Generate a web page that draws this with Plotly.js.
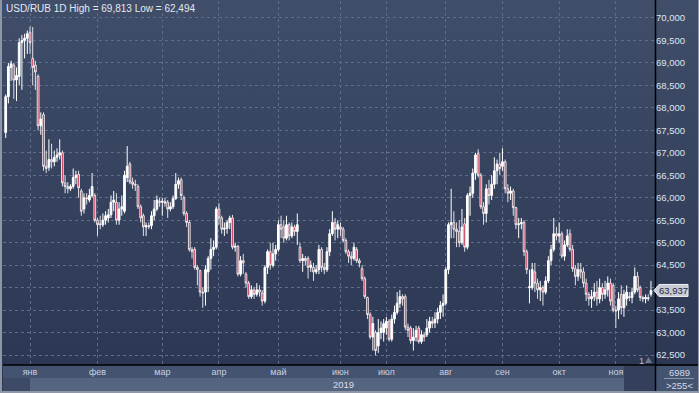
<!DOCTYPE html>
<html><head><meta charset="utf-8">
<script src="https://cdn.plot.ly/plotly-3.0.1.min.js"></script>
<style>
html,body{margin:0;padding:0;background:#2c3753;}
#wrap{position:relative;width:699px;height:393px;overflow:hidden;background:linear-gradient(to bottom,#404e6a 0px,#2c3753 365px,#2c3753 393px);}
#chart{position:absolute;left:0;top:0;width:699px;height:393px;}
#frame{position:absolute;left:0;top:0;width:699px;height:393px;box-sizing:border-box;border-left:2px solid #8d97a8;border-bottom:2px solid #8d97a8;border-right:1px solid #8d97a8;pointer-events:none;}
</style></head>
<body><div id="wrap"><div id="chart"></div><div id="frame"></div></div>
<script>
const chartTitle = 'USD/RUB 1D High = 69,813 Low = 62,494';
const yearLabel = '2019';
const lastPrice = 63.937;
const monthLabels = ['янв','фев','мар','апр','май','июн','июл','авг','сен','окт','ноя'];
const monthTickIdx = [9, 34, 58, 79, 101, 124, 141, 163, 184, 205, 226];
const yTickVals = [62.5, 63.0, 63.5, 64.0, 64.5, 65.0, 65.5, 66.0, 66.5, 67.0, 67.5, 68.0, 68.5, 69.0, 69.5, 70.0];
const yTickText = ['62,500','63,000','63,500','','64,500','65,000','65,500','66,000','66,500','67,000','67,500','68,000','68,500','69,000','69,500','70,000'];

const open = [
67.45,68.25,68.9,68.95,68.62,68.7,69.45,69.5,69.55,69.68,
69.1,68.95,68.7,67.6,67.85,66.7,66.68,66.85,66.8,66.9,
66.95,67.0,66.33,66.25,66.2,66.25,66.45,66.52,66.15,65.75,
66.0,65.95,66.05,66.05,65.5,65.42,65.4,65.5,65.55,65.62,
65.9,65.9,65.5,65.75,65.7,66.45,66.75,66.35,66.3,66.25,
65.8,65.6,65.35,65.38,65.38,65.6,65.75,65.92,65.9,65.92,
65.9,65.75,65.8,65.98,66.3,66.4,66.0,65.65,65.45,64.85,
64.85,64.45,64.38,63.9,63.9,64.35,64.65,64.85,64.9,65.75,
65.55,65.3,65.32,65.45,65.55,64.9,64.92,64.3,64.6,64.3,
64.1,63.8,63.95,63.85,63.95,63.88,63.7,64.45,64.8,64.5,
64.75,64.85,65.4,65.35,65.1,65.4,65.15,65.35,65.25,64.9,
64.6,64.65,64.65,64.45,64.45,64.35,64.4,64.85,64.45,64.4,
64.8,65.2,65.45,65.3,65.35,65.3,65.05,64.8,64.7,64.65,
64.85,64.6,64.42,64.2,63.78,63.4,62.9,63.0,62.7,63.0,
63.0,63.1,63.25,62.85,63.3,63.45,63.65,63.8,63.8,63.12,
63.1,62.82,62.9,63.1,62.8,62.95,62.95,63.1,63.25,63.22,
63.3,63.45,63.6,63.65,64.4,65.4,65.45,65.3,65.25,65.0,
65.42,64.9,66.05,66.1,66.55,66.98,66.5,65.8,65.65,66.2,
66.05,66.3,66.6,66.75,66.7,66.8,66.2,66.1,66.15,65.78,
65.4,65.42,65.45,64.8,64.0,64.0,64.35,64.1,63.95,64.0,
63.9,64.15,64.6,64.85,65.2,65.15,65.2,64.7,64.95,65.2,
64.85,64.42,64.25,64.4,64.35,64.1,63.85,63.75,63.8,63.9,
63.75,64.0,63.85,63.95,64.1,64.05,63.5,63.5,63.85,63.55,
63.75,63.8,63.78,63.9,64.25,64.0,63.78,63.75,63.78,63.85
];
const close = [
68.25,68.92,68.98,68.62,68.72,69.45,69.5,69.55,69.65,69.45,
68.9,68.8,67.6,67.75,66.7,66.65,66.85,66.8,66.9,66.95,
67.0,66.33,66.25,66.2,66.25,66.45,66.5,66.22,65.7,66.0,
65.98,66.05,66.25,65.5,65.4,65.4,65.5,65.6,65.62,65.9,
65.95,65.5,65.75,65.8,66.5,66.7,66.35,66.3,66.28,65.8,
65.55,65.35,65.38,65.35,65.6,65.75,65.95,65.9,65.92,65.88,
65.75,65.8,65.98,66.3,66.38,66.05,65.65,65.45,64.85,64.8,
64.45,64.4,63.9,63.88,64.4,64.65,64.85,64.9,65.75,65.55,
65.3,65.32,65.45,65.55,64.9,64.92,64.3,64.6,64.55,64.1,
63.8,63.95,63.85,63.95,63.9,63.7,64.45,64.8,64.5,64.75,
64.85,65.4,65.3,65.1,65.4,65.15,65.35,65.25,65.4,64.6,
64.65,64.6,64.45,64.5,64.35,64.4,64.85,64.45,64.4,64.8,
65.2,65.45,65.3,65.4,65.3,65.05,64.8,64.7,64.65,64.9,
64.6,64.55,64.2,63.8,63.4,62.9,63.2,62.6,63.0,63.1,
63.2,63.25,62.85,63.3,63.45,63.65,63.8,63.75,63.12,63.05,
62.82,62.9,63.05,62.8,62.95,62.9,63.1,63.25,63.2,63.3,
63.45,63.6,63.65,64.4,65.4,65.45,65.3,65.25,65.0,65.35,
64.9,66.05,66.1,66.55,66.95,66.5,65.8,65.65,66.2,66.05,
66.3,66.6,66.75,66.65,66.8,66.2,66.1,66.15,65.78,65.4,
65.42,65.45,64.8,64.4,64.02,64.4,64.1,63.95,64.0,63.9,
64.15,64.6,64.85,65.2,65.15,65.2,64.7,64.95,65.15,64.85,
64.42,64.25,64.4,64.35,64.1,63.85,63.75,63.8,63.9,63.75,
64.0,63.85,63.95,64.1,63.7,63.5,63.48,63.75,63.55,63.85,
63.9,63.78,63.9,64.25,63.95,63.78,63.75,63.78,63.75,63.937
];
const high = [
68.3,69.0,69.05,69.0,68.9,69.55,69.62,69.65,69.72,69.81,
69.8,69.05,68.75,67.9,67.9,67.05,67.3,67.2,67.05,67.1,
67.3,67.05,66.5,66.35,66.3,66.65,66.6,66.6,66.2,66.1,
66.1,66.2,66.55,66.1,65.55,65.6,65.65,65.7,65.75,66.05,
66.15,66.1,65.9,66.05,66.6,67.15,66.8,66.45,66.4,66.3,
65.85,65.65,65.45,65.45,65.7,65.95,66.05,66.0,66.0,66.0,
65.95,65.9,66.05,66.55,66.45,66.45,66.05,65.7,65.5,64.9,
64.9,64.5,64.4,64.0,64.5,64.7,65.1,65.05,65.8,65.88,
65.6,65.45,65.5,65.6,65.62,65.0,64.95,64.7,64.75,64.35,
64.15,64.05,64.02,64.1,64.05,63.95,64.5,64.85,65.0,65.0,
64.95,65.5,65.6,65.5,65.6,65.45,65.45,65.4,65.65,65.0,
64.75,64.7,64.7,64.6,64.55,64.5,64.95,64.9,64.55,64.9,
65.3,65.7,65.55,65.5,65.45,65.35,65.1,64.85,64.8,65.0,
64.9,64.65,64.5,64.25,63.8,63.45,63.35,63.05,63.3,63.25,
63.3,63.35,63.3,63.4,63.6,63.9,63.95,63.85,63.85,63.2,
63.15,63.1,63.15,63.15,63.05,63.0,63.3,63.35,63.35,63.45,
63.55,63.7,63.85,64.45,65.45,66.2,65.7,65.45,65.5,65.75,
65.55,66.1,66.25,66.65,67.0,67.08,66.55,65.9,66.3,66.4,
66.5,66.9,66.85,67.0,67.1,66.85,66.3,66.25,66.2,65.8,
65.55,65.55,65.5,64.85,64.4,64.55,64.55,64.2,64.15,64.05,
64.25,64.7,64.95,65.55,65.35,65.45,65.25,65.05,65.3,65.3,
64.95,64.5,64.55,64.55,64.45,64.2,63.9,63.95,64.1,64.15,
64.2,64.1,64.15,64.25,64.2,64.1,63.6,63.9,64.05,63.95,
64.05,63.9,64.0,64.45,64.35,64.05,63.82,63.85,63.85,64.15
];
const low = [
67.33,68.1,68.6,68.2,68.15,68.5,68.4,69.1,69.2,69.2,
68.5,68.4,67.5,67.4,66.6,66.55,66.6,66.65,66.7,66.8,
66.85,66.25,66.1,66.1,66.15,66.2,66.3,66.0,65.6,65.65,
65.85,65.9,66.0,65.45,65.15,65.3,65.35,65.4,65.45,65.55,
65.7,65.4,65.4,65.6,65.65,66.35,66.3,66.2,66.15,65.75,
65.45,65.15,65.15,65.3,65.3,65.5,65.7,65.8,65.6,65.8,
65.55,65.7,65.75,65.95,66.2,65.95,65.6,65.35,64.8,64.65,
64.4,64.05,63.8,63.55,63.6,63.9,64.4,64.7,64.85,65.4,
65.2,65.15,65.2,65.3,64.85,64.8,64.25,64.25,64.3,64.0,
63.75,63.75,63.75,63.8,63.8,63.6,63.65,64.3,64.4,64.45,
64.6,64.8,65.1,65.0,65.05,65.05,65.1,65.15,64.95,64.55,
64.35,64.5,64.2,64.35,64.15,64.3,64.3,64.35,64.3,64.35,
64.7,65.15,65.05,65.1,65.15,65.0,64.75,64.55,64.5,64.6,
64.55,64.45,64.15,63.75,63.3,62.85,62.6,62.494,62.55,62.85,
62.8,62.95,62.8,62.8,63.2,63.4,63.55,63.6,63.05,62.9,
62.75,62.6,62.8,62.75,62.75,62.8,62.9,63.0,63.1,63.1,
63.2,63.3,63.35,63.6,64.3,65.1,65.1,64.9,64.9,64.95,
64.8,64.85,65.6,66.0,66.4,66.45,65.75,65.4,65.45,65.85,
65.95,66.2,66.3,66.5,66.6,66.1,65.9,65.95,65.6,65.3,
65.1,65.3,64.7,64.3,63.65,63.95,63.9,63.75,63.7,63.6,
63.85,64.1,64.5,64.8,65.05,65.0,64.65,64.6,64.9,64.8,
64.35,64.05,64.15,64.2,64.0,63.7,63.6,63.55,63.7,63.6,
63.65,63.7,63.75,63.8,63.6,63.45,63.1,63.3,63.4,63.35,
63.6,63.7,63.65,63.85,63.9,63.7,63.68,63.65,63.7,63.8
];

const idx = close.map((_, i) => i);

// geometry helpers (pixel -> paper)
const PL = 3, PR = 655, PT = 1, PB = 365;
const YMIN = 62.278, YMAX = 70.378;
const px = v => (v - PL) / (PR - PL);
const py = v => (PB - v) / (PB - PT);
const pp = p => (p - YMIN) / (YMAX - YMIN);

const FONT = 'Liberation Sans, Arial, sans-serif';
const gridCol = '#5f6d8b';

const trace = {
  type: 'candlestick', x: idx, open: open, high: high, low: low, close: close,
  increasing: {line: {color: '#ffffff', width: 1}, fillcolor: '#ffffff'},
  decreasing: {line: {color: '#f2f2f4', width: 0.9}, fillcolor: '#c0203f'},
  whiskerwidth: 0, hoverinfo: 'skip'
};

const lpY = pp(lastPrice);
const hh = 6 / (PB - PT);
const shapes = [
  {type:'rect', xref:'paper', yref:'paper', x0:px(3), x1:px(655), y0:py(378), y1:py(365), fillcolor:'#44536f', line:{width:0}, layer:'below'},
  {type:'rect', xref:'paper', yref:'paper', x0:px(30), x1:px(624), y0:py(391), y1:py(378), fillcolor:'#55647f', line:{width:0}, layer:'below'},
  {type:'rect', xref:'paper', yref:'paper', x0:px(3), x1:px(30), y0:py(391), y1:py(378), fillcolor:'#3d4a66', line:{width:0}, layer:'below'},
  {type:'rect', xref:'paper', yref:'paper', x0:px(624), x1:px(655), y0:py(391), y1:py(366), fillcolor:'#34405b', line:{width:0}, layer:'below'},
  {type:'rect', xref:'paper', yref:'paper', x0:px(656), x1:px(699), y0:py(391), y1:py(366), fillcolor:'#44536f', line:{width:0}, layer:'below'},
  {type:'line', xref:'paper', yref:'paper', x0:px(664), x1:px(694), y0:py(378.5), y1:py(378.5), line:{color:'#8d97aa', width:1}},
  {type:'line', xref:'paper', yref:'paper', x0:px(655.5), x1:px(655.5), y0:py(0), y1:py(391), line:{color:'#000000', width:1.5}},
  {type:'line', xref:'paper', yref:'paper', x0:px(3), x1:px(699), y0:py(365), y1:py(365), line:{color:'#000000', width:1.5}},
  {type:'path', xref:'paper', yref:'paper', path:`M ${px(645)},${py(363)} L ${px(652)},${py(363)} L ${px(648.5)},${py(357)} Z`, fillcolor:'#6d7994', line:{width:0}},
  {type:'path', xref:'paper', yref:'paper',
    path:`M ${px(654)},${lpY} L ${px(659)},${lpY + hh} L ${px(688)},${lpY + hh} L ${px(688)},${lpY - hh} L ${px(659)},${lpY - hh} Z`,
    fillcolor:'#c7ccd5', line:{color:'#eef1f5', width:1}}
];

const annotations = [
  {xref:'paper', yref:'paper', x:px(4), y:py(8), xanchor:'left', yanchor:'middle', showarrow:false, text:chartTitle, font:{family:FONT, size:10, color:'#e3e8f1'}},
  {xref:'paper', yref:'paper', x:px(343), y:py(384.5), xanchor:'center', yanchor:'middle', showarrow:false, text:yearLabel, font:{family:FONT, size:9.5, color:'#d8deea'}},
  {xref:'paper', yref:'paper', x:px(679), y:py(372), xanchor:'center', yanchor:'middle', showarrow:false, text:'6989', font:{family:FONT, size:9.5, color:'#d3d9e6'}},
  {xref:'paper', yref:'paper', x:px(679), y:py(385), xanchor:'center', yanchor:'middle', showarrow:false, text:'&gt;255&lt;', font:{family:FONT, size:9.5, color:'#d3d9e6'}},
  {xref:'paper', yref:'paper', x:px(641), y:py(360), xanchor:'center', yanchor:'middle', showarrow:false, text:'1', font:{family:FONT, size:9.5, color:'#b5bdcc'}},
  {xref:'paper', yref:'paper', x:px(673.5), y:lpY, xanchor:'center', yanchor:'middle', showarrow:false, text:lastPrice.toFixed(3).replace('.', ','), font:{family:FONT, size:9.5, color:'#1d2841'}}
];

const layout = {
  width: 699, height: 393,
  margin: {l: PL, r: 699 - PR, t: PT, b: 393 - PB, pad: 0},
  paper_bgcolor: 'rgba(0,0,0,0)', plot_bgcolor: 'rgba(0,0,0,0)',
  separators: ', ',
  showlegend: false,
  font: {family: FONT, color: '#dfe5f0'},
  xaxis: {
    range: [-1, 240.5], tickmode: 'array', tickvals: monthTickIdx, ticktext: monthLabels,
    showgrid: true, gridcolor: gridCol, griddash: 'dot', gridwidth: 1,
    zeroline: false, showline: false, ticks: '',
    tickfont: {family: FONT, size: 9, color: '#c9d1e2'},
    rangeslider: {visible: false}, fixedrange: true
  },
  yaxis: {
    side: 'right', range: [YMIN, YMAX], tickmode: 'array', tickvals: yTickVals, ticktext: yTickText,
    showgrid: true, gridcolor: gridCol, griddash: 'dot', gridwidth: 1,
    zeroline: false, showline: false, ticks: '',
    tickfont: {family: FONT, size: 9.5, color: '#dfe5f0'}, fixedrange: true
  },
  boxgap: 0.08,
  shapes: shapes,
  annotations: annotations
};

Plotly.newPlot('chart', [trace], layout, {displayModeBar: false, staticPlot: true});
</script>
</body></html>
